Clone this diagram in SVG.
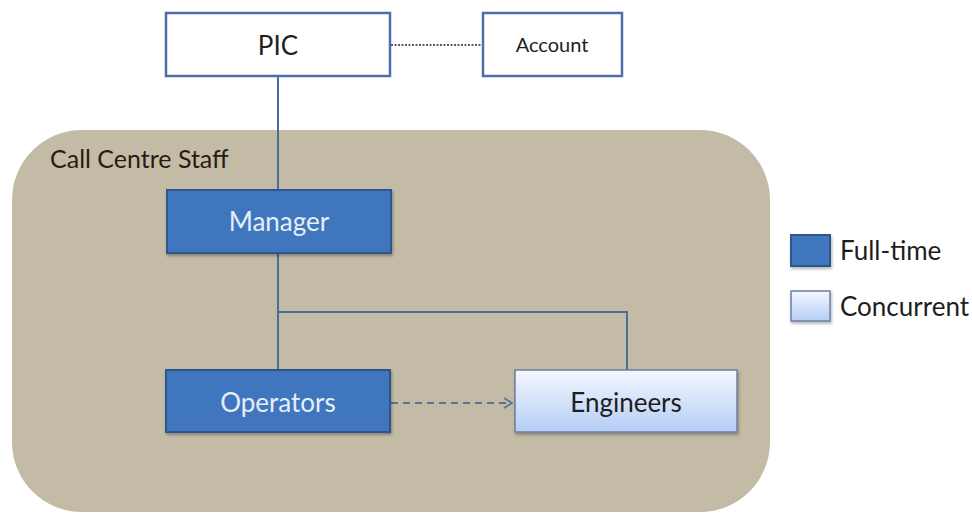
<svg xmlns="http://www.w3.org/2000/svg" width="972" height="513" viewBox="0 0 972 513">
<defs>
<linearGradient id="conc" x1="0" y1="0" x2="0" y2="1">
<stop offset="0" stop-color="#F4F7FF"/>
<stop offset="1" stop-color="#B5CDF5"/>
</linearGradient>
<marker id="arr" markerWidth="12" markerHeight="12" refX="10" refY="6" orient="auto" markerUnits="userSpaceOnUse">
<path d="M2,1 L10,6 L2,11" fill="none" stroke="#5A7398" stroke-width="1.8"/>
</marker>
<filter id="sh" x="-10%" y="-10%" width="130%" height="140%">
<feDropShadow dx="1" dy="2" stdDeviation="1.5" flood-color="#000" flood-opacity="0.3"/>
</filter>
</defs>
<style>
text{font-family:Lato,"Open Sans","Liberation Sans",sans-serif;}
.white{fill:#FFFFFF;stroke:#4F6EA8;stroke-width:2.5;}
.full{fill:#3F76BE;stroke:#2E568C;stroke-width:2;}
.conc{fill:url(#conc);stroke:#6D7FA3;stroke-width:1.5;}
.line{stroke:#4E6C98;stroke-width:2;fill:none;}
.dark{fill:#1E1E1E;}
.light{fill:#E6EEF9;}
</style>
<rect width="972" height="513" fill="#FFFFFF"/>
<g id="call-centre-staff">
<rect x="12" y="130" width="758" height="382" rx="70" ry="70" fill="#C4BBA6"/>
<text x="50" y="168" font-size="25" fill="#2A1B12">Call Centre Staff</text>
</g>
<g id="connectors">
<line class="line" x1="278" y1="76" x2="278" y2="190"/>
<line class="line" x1="278" y1="253" x2="278" y2="370"/>
<polyline class="line" points="278,312 627,312 627,370"/>
<line x1="391" y1="45" x2="482" y2="45" stroke="#5B5B6B" stroke-width="1.8" stroke-dasharray="2,1.5"/>
<line x1="391" y1="403" x2="512" y2="403" stroke="#5A7398" stroke-width="2" stroke-dasharray="7,5" marker-end="url(#arr)"/>
</g>
<g id="pic">
<rect class="white" x="166" y="13" width="224" height="63"/>
<text x="278" y="55" font-size="26" text-anchor="middle" class="dark">PIC</text>
</g>
<g id="account">
<rect class="white" x="483" y="13" width="139" height="63"/>
<text x="552" y="52" font-size="20" text-anchor="middle" class="dark">Account</text>
</g>
<g id="manager">
<rect class="full" x="167" y="190" width="224" height="63" filter="url(#sh)"/>
<text x="279" y="231" font-size="26" text-anchor="middle" class="light">Manager</text>
</g>
<g id="operators">
<rect class="full" x="166" y="370" width="224" height="62" filter="url(#sh)"/>
<text x="278" y="412" font-size="26" text-anchor="middle" class="light">Operators</text>
</g>
<g id="engineers">
<rect class="conc" x="515" y="370" width="222" height="62" filter="url(#sh)"/>
<text x="626" y="412" font-size="26" text-anchor="middle" class="dark">Engineers</text>
</g>
<g id="legend">
<rect class="full" x="791" y="235" width="39" height="31" filter="url(#sh)"/>
<text x="840" y="260" font-size="26" class="dark">Full-time</text>
<rect class="conc" x="791" y="291" width="39" height="30" filter="url(#sh)"/>
<text x="840" y="316" font-size="26" class="dark">Concurrent</text>
</g>
</svg>
